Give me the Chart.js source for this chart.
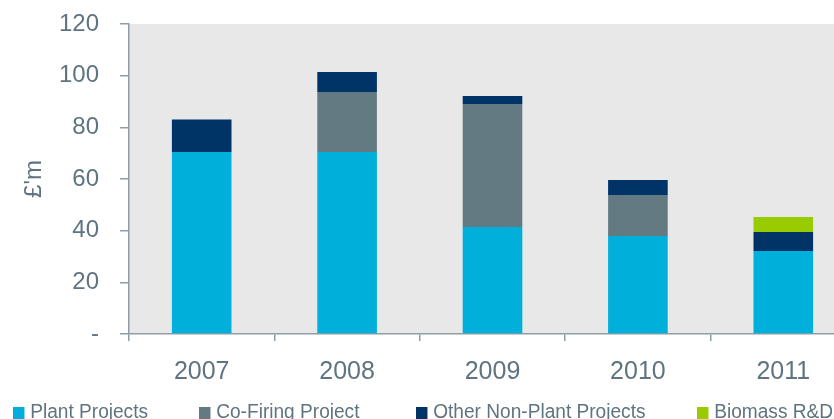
<!DOCTYPE html>
<html>
<head>
<meta charset="utf-8">
<title>Funding by year</title>
<script src="https://cdn.jsdelivr.net/npm/chart.js@4.4.1/dist/chart.umd.min.js"></script>
<style>
  html, body { margin: 0; padding: 0; background: #fff; }
  #wrap { position: relative; width: 834px; height: 419px; overflow: hidden; }
  #chart { position: absolute; left: 0; top: 0; }
  .legend-item {
    position: absolute; top: 399px; height: 24px;
    font-family: "Liberation Sans", Arial, sans-serif; font-size: 20px;
    color: #5f7480; white-space: nowrap; line-height: 24px;
    transform: scaleX(0.955); transform-origin: left center;
  }
  .legend-item i {
    display: inline-block; width: 12px; height: 12px;
    margin-right: 6px; vertical-align: -1px;
  }
</style>
</head>
<body>
<div id="wrap">
  <canvas id="chart" width="856" height="419"></canvas>
</div>
<script>
const years = ["2007", "2008", "2009", "2010", "2011"];
const seriesNames = ["Plant Projects", "Co-Firing Project", "Other Non-Plant Projects", "Biomass R&D"];

const plantProjects = [70.5, 70.5, 41.4, 37.9, 32.1];
const coFiring = [0, 23.2, 47.6, 15.9, 0];
const otherNonPlant = [12.5, 7.7, 3.1, 5.8, 7.4];
const biomassRD = [0, 0, 0, 0, 5.8];

const yTicks = [0, 20, 40, 60, 80, 100, 120];

const colors = ["#00afda", "#637a82", "#003366", "#99cc00"];
const textColor = "#5f7480";
const axisColor = "#8d9ea7";
const fontFamily = "'Liberation Sans', Arial, sans-serif";

const plotBackground = {
    id: "plotBackground",
    beforeDraw(chart) {
        const { ctx, chartArea } = chart;
        ctx.save();
        ctx.fillStyle = "#e8e8e8";
        ctx.fillRect(chartArea.left, chartArea.top,
            chartArea.right - chartArea.left, chartArea.bottom - chartArea.top);
        ctx.restore();
    },
};

const allSeries = [plantProjects, coFiring, otherNonPlant, biomassRD];

const data = {
    labels: years,
    datasets: allSeries.map((values, i) => ({
        label: seriesNames[i],
        data: values,
        backgroundColor: colors[i],
        borderWidth: 0,
        barPercentage: 0.41,
        categoryPercentage: 1,
    })),
};

const config = {
    type: "bar",
    data: data,
    options: {
        responsive: false,
        animation: false,
        layout: { padding: { top: 24, right: 0, bottom: 0, left: 0 } },
        plugins: {
            legend: { display: false },
            tooltip: { enabled: false },
        },
        scales: {
            x: {
                stacked: true,
                border: { color: axisColor, width: 1.5 },
                grid: {
                    offset: true,
                    drawOnChartArea: false,
                    drawTicks: true,
                    tickLength: 7,
                    color: axisColor,
                    lineWidth: 1.5,
                },
                ticks: {
                    color: textColor,
                    padding: 16,
                    font: { family: fontFamily, size: 25 },
                },
                afterFit(scale) {
                    scale.height = 85;
                },
            },
            y: {
                stacked: true,
                min: 0,
                max: 120,
                afterBuildTicks(scale) {
                    scale.ticks = yTicks.map((v) => ({ value: v }));
                },
                border: { color: axisColor, width: 1.5 },
                grid: {
                    drawOnChartArea: false,
                    drawTicks: true,
                    tickLength: 9,
                    color: axisColor,
                    lineWidth: 1.5,
                },
                ticks: {
                    color: textColor,
                    padding: 21,
                    font: { family: fontFamily, size: 24 },
                    callback: (value) => (value === 0 ? "-" : value),
                },
                title: {
                    display: true,
                    text: "£'m",
                    color: textColor,
                    padding: { top: 20, bottom: 0 },
                    font: { family: fontFamily, size: 24 },
                },
                afterFit(scale) {
                    scale.width = 129;
                    // plot top is set by layout padding alone
                    scale.paddingTop = 0;
                    scale.paddingBottom = 0;
                },
            },
        },
    },
    plugins: [plotBackground],
};

const myChart = new Chart(document.getElementById("chart"), config);

// legend along the bottom edge
const legendLefts = [13, 199, 416, 697];
const wrap = document.getElementById("wrap");
seriesNames.forEach((name, i) => {
    const item = document.createElement("div");
    item.className = "legend-item";
    item.style.left = legendLefts[i] + "px";
    const swatch = document.createElement("i");
    swatch.style.background = colors[i];
    item.appendChild(swatch);
    item.appendChild(document.createTextNode(name));
    wrap.appendChild(item);
});
</script>
</body>
</html>
